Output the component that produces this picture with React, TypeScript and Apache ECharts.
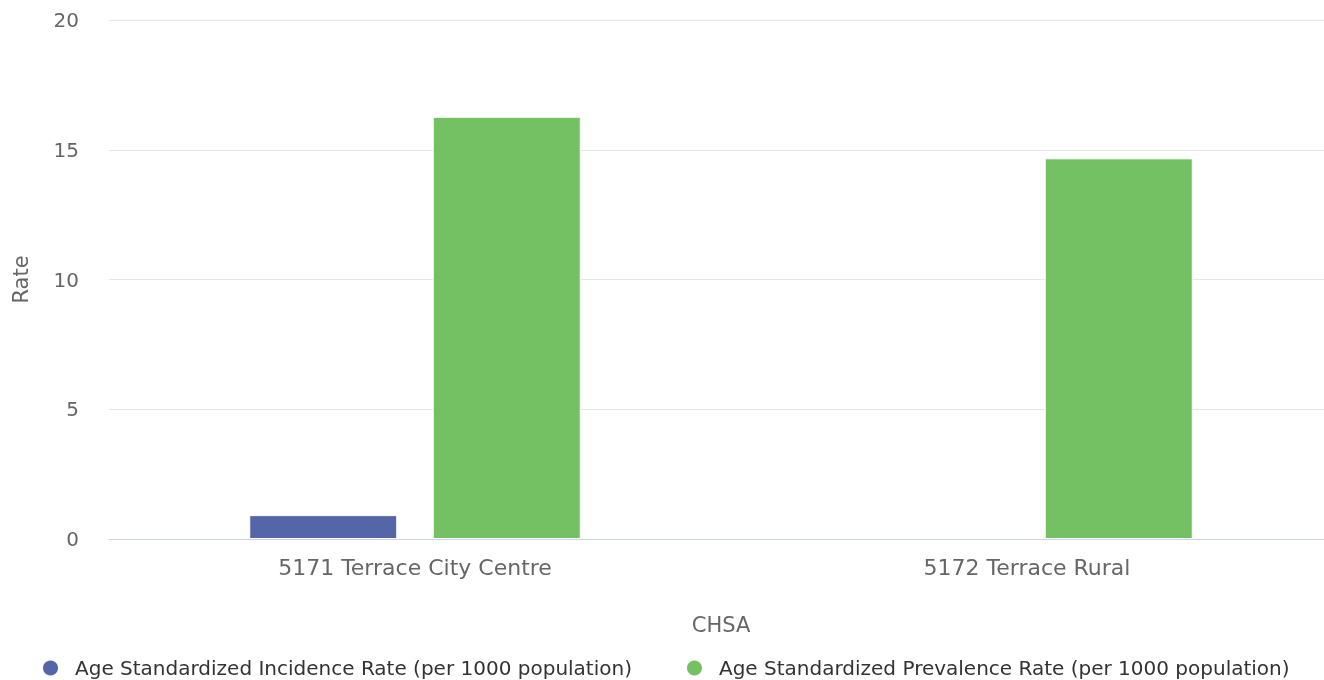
import React, { useEffect, useRef } from "react";
import * as echarts from "echarts";

const categories = ["5171 Terrace City Centre", "5172 Terrace Rural"];
const incidence = [0.92, null];
const prevalence = [16.27, 14.67];
const seriesNames = [
  "Age Standardized Incidence Rate (per 1000 population)",
  "Age Standardized Prevalence Rate (per 1000 population)",
];

export default function App() {
  const ref = useRef<HTMLDivElement>(null);
  useEffect(() => {
    const chart = echarts.init(ref.current!, null, { renderer: "svg" });
    const font = "DejaVu Sans";
    chart.setOption({
      animation: false,
      textStyle: { fontFamily: font },
      legend: {
        bottom: -3,
        left: 36,
        icon: "circle",
        itemWidth: 17,
        itemHeight: 17,
        itemGap: 53,
        textStyle: { fontFamily: font, fontSize: 20, color: "#333", padding: [0, 0, 0, 11] },
        data: seriesNames,
      },
      grid: { left: 109, right: 0, top: 20, height: 519 },
      xAxis: {
        type: "category",
        data: categories,
        name: "CHSA",
        nameLocation: "middle",
        nameGap: 75,
        nameTextStyle: { fontFamily: font, fontSize: 21, color: "#666" },
        axisLine: { lineStyle: { color: "#ccd6eb", width: 1 } },
        axisTick: { show: false },
        axisLabel: { fontFamily: font, fontSize: 22, color: "#666", margin: 17 },
      },
      yAxis: {
        type: "value",
        min: 0,
        max: 20,
        interval: 5,
        name: "Rate",
        nameLocation: "middle",
        nameGap: 78,
        nameTextStyle: { fontFamily: font, fontSize: 21, color: "#666" },
        axisLine: { show: false },
        axisTick: { show: false },
        axisLabel: { fontFamily: font, fontSize: 20, color: "#666", margin: 30 },
        splitLine: { lineStyle: { color: "#e6e6e6", width: 1 } },
      },
      series: [
        {
          name: seriesNames[0],
          type: "bar",
          data: incidence,
          barWidth: 148,
          barGap: "24%",
          itemStyle: { color: "#5465a8", borderColor: "#fff", borderWidth: 1 },
        },
        {
          name: seriesNames[1],
          type: "bar",
          data: prevalence,
          barWidth: 148,
          barGap: "24%",
          itemStyle: { color: "#73c163", borderColor: "#fff", borderWidth: 1 },
        },
      ],
    });
    return () => chart.dispose();
  }, []);
  return (
    <div style={{ position: "fixed", left: 0, top: 0, width: 1324, height: 680, overflow: "hidden" }}>
      <div ref={ref} style={{ position: "absolute", left: 0, top: 0, width: 1333, height: 680 }} />
    </div>
  );
}
